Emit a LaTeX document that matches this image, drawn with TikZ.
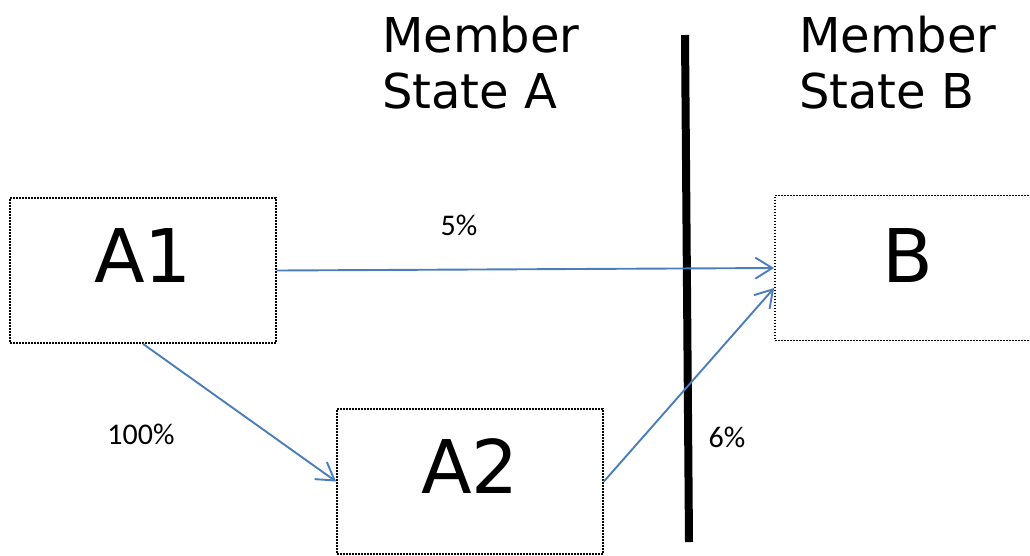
\documentclass[tikz,border=0pt]{standalone}
\usepackage{fontspec}
\setmainfont{DejaVu Sans}
\newfontfamily\pctfont{Carlito}
\usetikzlibrary{arrows.meta}
\definecolor{flowblue}{HTML}{4A7EBB}
\begin{document}
\begin{tikzpicture}[x=1pt,y=-1pt,
  entity/.style={draw=black,line width=1.8pt,dash pattern=on 1.6pt off 1.4pt,
    minimum width=266pt,minimum height=145pt,inner sep=0pt},
  bigtext/.style={font=\fontsize{74}{80}\selectfont,inner sep=0pt},
  statetext/.style={font=\fontsize{48}{56}\selectfont,align=left,anchor=base west,inner sep=0pt},
  pct/.style={font=\pctfont\fontsize{30}{34}\selectfont,inner sep=0pt},
  flow/.style={draw=flowblue,line width=1.9pt,-{Straight Barb[length=17pt,width=21pt,line width=1.9pt]}}]
\useasboundingbox (0,0) rectangle (1030,555);
\clip (0,0) rectangle (1030,555);

% border between the two member states
\coordinate (bordertop) at (685,35);
\coordinate (borderbottom) at (689,542);
\draw[line width=8pt] (bordertop) -- (borderbottom);

% state headings (anchored on the baseline of the last line)
\node[statetext] (stateA) at (382,108) {Member\\State A};
\node[statetext] (stateB) at (799,108) {Member\\State B};

% entities
\node[entity] (A1) at (143,270.5) {};
\node[entity] (A2) at (470,481.5) {};
\node[entity] (B) at (908,268) {};
\node[bigtext] (A1t) at (143,256) {A1};
\node[bigtext] (A2t) at (470,466.5) {A2};
\node[bigtext] (Bt) at (908,255.5) {B};

% flows
\draw[flow] (A1.east) -- (B.west);
\draw[flow] (A1.south) -- (A2.west);
\draw[flow] (A2.east) -- ([yshift=-20pt]B.west);

% shares
\node[pct] (p5) at (459,225) {5\%};
\node[pct] (p100) at (141,434) {100\%};
\node[pct] (p6) at (727,437) {6\%};
\end{tikzpicture}
\end{document}
